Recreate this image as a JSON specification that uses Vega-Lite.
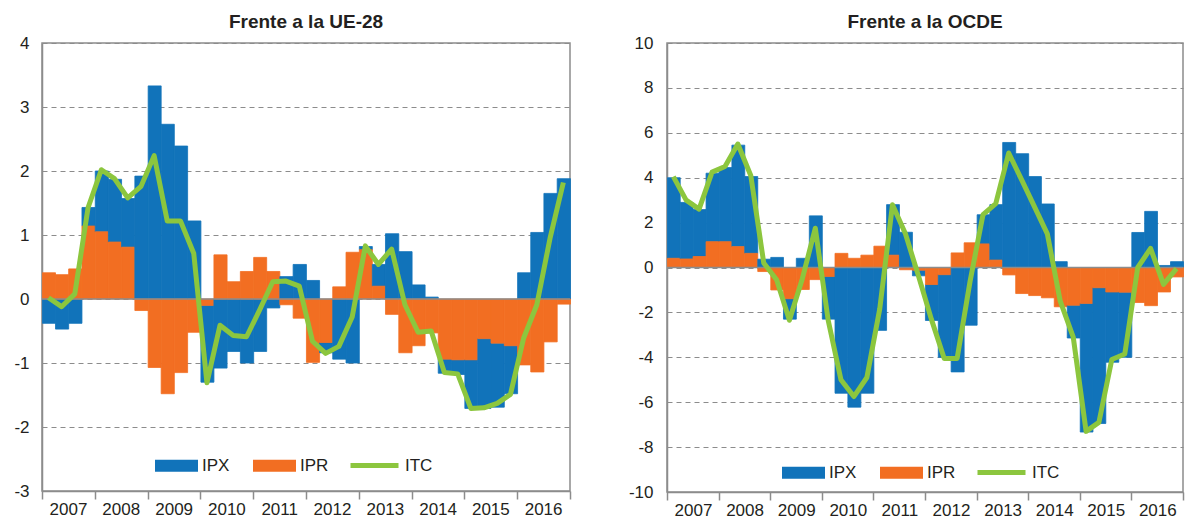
{
  "$schema": "https://vega.github.io/schema/vega-lite/v6.json",
  "background": "white",
  "padding": {"left": 13, "top": 12, "right": 4, "bottom": 4},
  "spacing": 30,
  "datasets": {
    "ue": [
      {"fecha": "2007-02-15", "IPX": -0.38, "IPR": 0.41, "ITC": 0.02},
      {"fecha": "2007-05-15", "IPX": -0.47, "IPR": 0.38, "ITC": -0.12},
      {"fecha": "2007-08-15", "IPX": -0.38, "IPR": 0.47, "ITC": 0.08},
      {"fecha": "2007-11-15", "IPX": 0.29, "IPR": 1.14, "ITC": 1.43},
      {"fecha": "2008-02-15", "IPX": 0.95, "IPR": 1.05, "ITC": 2.02},
      {"fecha": "2008-05-15", "IPX": 0.98, "IPR": 0.89, "ITC": 1.88},
      {"fecha": "2008-08-15", "IPX": 0.76, "IPR": 0.81, "ITC": 1.58},
      {"fecha": "2008-11-15", "IPX": 1.92, "IPR": -0.18, "ITC": 1.76},
      {"fecha": "2009-02-15", "IPX": 3.33, "IPR": -1.07, "ITC": 2.24},
      {"fecha": "2009-05-15", "IPX": 2.73, "IPR": -1.48, "ITC": 1.22},
      {"fecha": "2009-08-15", "IPX": 2.39, "IPR": -1.15, "ITC": 1.22},
      {"fecha": "2009-11-15", "IPX": 1.22, "IPR": -0.52, "ITC": 0.71},
      {"fecha": "2010-02-15", "IPX": -1.2, "IPR": -0.1, "ITC": -1.31},
      {"fecha": "2010-05-15", "IPX": -1.08, "IPR": 0.69, "ITC": -0.41},
      {"fecha": "2010-08-15", "IPX": -0.82, "IPR": 0.27, "ITC": -0.57},
      {"fecha": "2010-11-15", "IPX": -1.0, "IPR": 0.43, "ITC": -0.59},
      {"fecha": "2011-02-15", "IPX": -0.82, "IPR": 0.65, "ITC": -0.17},
      {"fecha": "2011-05-15", "IPX": -0.14, "IPR": 0.43, "ITC": 0.27},
      {"fecha": "2011-08-15", "IPX": 0.35, "IPR": -0.09, "ITC": 0.28},
      {"fecha": "2011-11-15", "IPX": 0.54, "IPR": -0.3, "ITC": 0.2},
      {"fecha": "2012-02-15", "IPX": 0.29, "IPR": -0.99, "ITC": -0.66},
      {"fecha": "2012-05-15", "IPX": -0.16, "IPR": -0.68, "ITC": -0.85},
      {"fecha": "2012-08-15", "IPX": -0.94, "IPR": 0.19, "ITC": -0.74},
      {"fecha": "2012-11-15", "IPX": -1.0, "IPR": 0.73, "ITC": -0.28},
      {"fecha": "2013-02-15", "IPX": 0.05, "IPR": 0.77, "ITC": 0.83},
      {"fecha": "2013-05-15", "IPX": 0.34, "IPR": 0.2, "ITC": 0.54},
      {"fecha": "2013-08-15", "IPX": 1.02, "IPR": -0.24, "ITC": 0.78},
      {"fecha": "2013-11-15", "IPX": 0.74, "IPR": -0.84, "ITC": -0.09},
      {"fecha": "2014-02-15", "IPX": 0.22, "IPR": -0.73, "ITC": -0.52},
      {"fecha": "2014-05-15", "IPX": 0.03, "IPR": -0.53, "ITC": -0.5},
      {"fecha": "2014-08-15", "IPX": -0.22, "IPR": -0.94, "ITC": -1.15},
      {"fecha": "2014-11-15", "IPX": -0.23, "IPR": -0.95, "ITC": -1.17},
      {"fecha": "2015-02-15", "IPX": -0.76, "IPR": -0.95, "ITC": -1.71},
      {"fecha": "2015-05-15", "IPX": -1.09, "IPR": -0.62, "ITC": -1.7},
      {"fecha": "2015-08-15", "IPX": -1.0, "IPR": -0.69, "ITC": -1.63},
      {"fecha": "2015-11-15", "IPX": -0.75, "IPR": -0.73, "ITC": -1.49},
      {"fecha": "2016-02-15", "IPX": 0.41, "IPR": -1.03, "ITC": -0.61},
      {"fecha": "2016-05-15", "IPX": 1.04, "IPR": -1.14, "ITC": -0.09},
      {"fecha": "2016-08-15", "IPX": 1.65, "IPR": -0.67, "ITC": 0.95},
      {"fecha": "2016-11-15", "IPX": 1.88, "IPR": -0.08, "ITC": 1.82}
    ],
    "ocde": [
      {"fecha": "2007-02-15", "IPX": 3.59, "IPR": 0.41, "ITC": 4.05},
      {"fecha": "2007-05-15", "IPX": 2.52, "IPR": 0.38, "ITC": 3.0},
      {"fecha": "2007-08-15", "IPX": 2.09, "IPR": 0.49, "ITC": 2.6},
      {"fecha": "2007-11-15", "IPX": 3.05, "IPR": 1.15, "ITC": 4.25},
      {"fecha": "2008-02-15", "IPX": 3.3, "IPR": 1.15, "ITC": 4.5},
      {"fecha": "2008-05-15", "IPX": 4.52, "IPR": 0.93, "ITC": 5.5},
      {"fecha": "2008-08-15", "IPX": 3.42, "IPR": 0.63, "ITC": 4.1},
      {"fecha": "2008-11-15", "IPX": 0.37, "IPR": -0.18, "ITC": 0.2},
      {"fecha": "2009-02-15", "IPX": 0.45, "IPR": -1.0, "ITC": -0.55},
      {"fecha": "2009-05-15", "IPX": -0.91, "IPR": -1.39, "ITC": -2.35},
      {"fecha": "2009-08-15", "IPX": 0.41, "IPR": -0.98, "ITC": -0.5},
      {"fecha": "2009-11-15", "IPX": 2.3, "IPR": -0.54, "ITC": 1.75},
      {"fecha": "2010-02-15", "IPX": -1.9, "IPR": -0.4, "ITC": -2.35},
      {"fecha": "2010-05-15", "IPX": -5.6, "IPR": 0.63, "ITC": -5.0},
      {"fecha": "2010-08-15", "IPX": -6.22, "IPR": 0.41, "ITC": -5.75},
      {"fecha": "2010-11-15", "IPX": -5.6, "IPR": 0.55, "ITC": -4.9},
      {"fecha": "2011-02-15", "IPX": -2.8, "IPR": 0.95, "ITC": -1.85},
      {"fecha": "2011-05-15", "IPX": 2.25, "IPR": 0.55, "ITC": 2.8},
      {"fecha": "2011-08-15", "IPX": 1.57, "IPR": -0.1, "ITC": 1.5},
      {"fecha": "2011-11-15", "IPX": -0.25, "IPR": -0.12, "ITC": -0.37},
      {"fecha": "2012-02-15", "IPX": -1.6, "IPR": -0.76, "ITC": -2.3},
      {"fecha": "2012-05-15", "IPX": -3.68, "IPR": -0.32, "ITC": -4.05},
      {"fecha": "2012-08-15", "IPX": -4.65, "IPR": 0.65, "ITC": -4.05},
      {"fecha": "2012-11-15", "IPX": -2.57, "IPR": 1.1, "ITC": -0.6},
      {"fecha": "2013-02-15", "IPX": 1.3, "IPR": 1.05, "ITC": 2.35},
      {"fecha": "2013-05-15", "IPX": 2.47, "IPR": 0.33, "ITC": 2.85},
      {"fecha": "2013-08-15", "IPX": 5.57, "IPR": -0.33, "ITC": 5.1},
      {"fecha": "2013-11-15", "IPX": 5.07, "IPR": -1.16, "ITC": 3.9},
      {"fecha": "2014-02-15", "IPX": 4.05, "IPR": -1.25, "ITC": 2.7},
      {"fecha": "2014-05-15", "IPX": 2.83, "IPR": -1.35, "ITC": 1.5},
      {"fecha": "2014-08-15", "IPX": 0.26, "IPR": -1.75, "ITC": -1.5},
      {"fecha": "2014-11-15", "IPX": -1.46, "IPR": -1.68, "ITC": -3.1},
      {"fecha": "2015-02-15", "IPX": -5.73, "IPR": -1.6, "ITC": -7.3},
      {"fecha": "2015-05-15", "IPX": -6.05, "IPR": -0.9, "ITC": -6.9},
      {"fecha": "2015-08-15", "IPX": -3.13, "IPR": -1.09, "ITC": -4.1},
      {"fecha": "2015-11-15", "IPX": -2.9, "IPR": -1.1, "ITC": -3.85},
      {"fecha": "2016-02-15", "IPX": 1.56, "IPR": -1.56, "ITC": 0.0},
      {"fecha": "2016-05-15", "IPX": 2.5, "IPR": -1.7, "ITC": 0.85},
      {"fecha": "2016-08-15", "IPX": 0.09, "IPR": -1.09, "ITC": -0.75},
      {"fecha": "2016-11-15", "IPX": 0.26, "IPR": -0.42, "ITC": -0.05}
    ]
  },
  "hconcat": [
    {
      "width": 528,
      "height": 448,
      "title": {"text": "Frente a la UE-28"},
      "resolve": {"scale": {"stroke": "independent"}},
      "layer": [
        {
          "data": {"name": "ue"},
          "transform": [{"fold": ["IPX", "IPR"], "as": ["serie", "valor"]}],
          "mark": {"type": "bar", "binSpacing": 0, "strokeWidth": 0.8},
          "encoding": {
            "x": {
              "field": "fecha", "type": "temporal", "timeUnit": "yearquarter",
              "scale": {"domain": [{"year": 2007, "month": 1, "date": 1}, {"year": 2017, "month": 1, "date": 1}]},
              "axis": {
                "title": null, "grid": false,
                "values": [{"year": 2007, "month": 1, "date": 1}, {"year": 2008, "month": 1, "date": 1}, {"year": 2009, "month": 1, "date": 1}, {"year": 2010, "month": 1, "date": 1}, {"year": 2011, "month": 1, "date": 1}, {"year": 2012, "month": 1, "date": 1}, {"year": 2013, "month": 1, "date": 1}, {"year": 2014, "month": 1, "date": 1}, {"year": 2015, "month": 1, "date": 1}, {"year": 2016, "month": 1, "date": 1}, {"year": 2017, "month": 1, "date": 1}],
                "labelExpr": "year(datum.value) > 2016 ? '' : timeFormat(datum.value, '%Y')",
                "labelOffset": 26, "labelFlush": false, "labelOverlap": false,
                "tickSize": 8, "labelPadding": 2
              }
            },
            "y": {
              "field": "valor", "type": "quantitative", "stack": "zero",
              "scale": {"domain": [-3, 4], "nice": false},
              "axis": {
                "title": null, "values": [-3, -2, -1, 0, 1, 2, 3, 4],
                "labelExpr": "datum.value + ''", "ticks": false, "labelPadding": 13,
                "grid": true, "gridDash": [5, 4], "gridColor": "#8c8c8c", "gridWidth": 1
              }
            },
            "fill": {
              "field": "serie", "type": "nominal",
              "scale": {"domain": ["IPX", "IPR"], "range": ["#1173BA", "#F26E22"]},
              "legend": {
                "orient": "none", "legendX": 113, "legendY": 401, "direction": "horizontal", "title": null,
                "symbolType": "M-1,-0.28L1,-0.28L1,0.28L-1,0.28Z", "symbolSize": 1849, "symbolStrokeWidth": 0,
                "labelFontSize": 17, "labelOffset": 4, "columnPadding": 23
              }
            },
            "stroke": {
              "field": "serie", "type": "nominal",
              "scale": {"domain": ["IPX", "IPR"], "range": ["#1173BA", "#F26E22"]},
              "legend": null
            },
            "order": {"field": "serie", "sort": "ascending"}
          }
        },
        {
          "data": {"values": [{}]},
          "mark": {"type": "rule", "color": "#8c8c8c", "strokeWidth": 1.5},
          "encoding": {"y": {"datum": 0}}
        },
        {
          "data": {"name": "ue"},
          "mark": {"type": "line", "strokeWidth": 5, "strokeJoin": "round"},
          "encoding": {
            "x": {"field": "fecha", "type": "temporal", "timeUnit": "yearquarter", "bandPosition": 0.5},
            "y": {"field": "ITC", "type": "quantitative"},
            "stroke": {
              "datum": "ITC",
              "scale": {"domain": ["ITC"], "range": ["#8CC63E"]},
              "legend": {
                "orient": "none", "legendX": 306, "legendY": 396, "title": null,
                "symbolType": "stroke", "symbolSize": 2304, "symbolStrokeWidth": 5,
                "labelFontSize": 17, "labelOffset": 4
              }
            }
          }
        }
      ]
    },
    {
      "width": 516,
      "height": 449,
      "title": {"text": "Frente a la OCDE"},
      "resolve": {"scale": {"stroke": "independent"}},
      "layer": [
        {
          "data": {"name": "ocde"},
          "transform": [{"fold": ["IPX", "IPR"], "as": ["serie", "valor"]}],
          "mark": {"type": "bar", "binSpacing": 0, "strokeWidth": 0.8},
          "encoding": {
            "x": {
              "field": "fecha", "type": "temporal", "timeUnit": "yearquarter",
              "scale": {"domain": [{"year": 2007, "month": 1, "date": 1}, {"year": 2017, "month": 1, "date": 1}]},
              "axis": {
                "title": null, "grid": false,
                "values": [{"year": 2007, "month": 1, "date": 1}, {"year": 2008, "month": 1, "date": 1}, {"year": 2009, "month": 1, "date": 1}, {"year": 2010, "month": 1, "date": 1}, {"year": 2011, "month": 1, "date": 1}, {"year": 2012, "month": 1, "date": 1}, {"year": 2013, "month": 1, "date": 1}, {"year": 2014, "month": 1, "date": 1}, {"year": 2015, "month": 1, "date": 1}, {"year": 2016, "month": 1, "date": 1}, {"year": 2017, "month": 1, "date": 1}],
                "labelExpr": "year(datum.value) > 2016 ? '' : timeFormat(datum.value, '%Y')",
                "labelOffset": 26, "labelFlush": false, "labelOverlap": false,
                "tickSize": 8, "labelPadding": 2
              }
            },
            "y": {
              "field": "valor", "type": "quantitative", "stack": "zero",
              "scale": {"domain": [-10, 10], "nice": false},
              "axis": {
                "title": null, "values": [-10, -8, -6, -4, -2, 0, 2, 4, 6, 8, 10],
                "labelExpr": "datum.value + ''", "ticks": false, "labelPadding": 14,
                "grid": true, "gridDash": [5, 4], "gridColor": "#8c8c8c", "gridWidth": 1
              }
            },
            "fill": {
              "field": "serie", "type": "nominal",
              "scale": {"domain": ["IPX", "IPR"], "range": ["#1173BA", "#F26E22"]},
              "legend": {
                "orient": "none", "legendX": 115, "legendY": 408, "direction": "horizontal", "title": null,
                "symbolType": "M-1,-0.28L1,-0.28L1,0.28L-1,0.28Z", "symbolSize": 1849, "symbolStrokeWidth": 0,
                "labelFontSize": 17, "labelOffset": 4, "columnPadding": 23
              }
            },
            "stroke": {
              "field": "serie", "type": "nominal",
              "scale": {"domain": ["IPX", "IPR"], "range": ["#1173BA", "#F26E22"]},
              "legend": null
            },
            "order": {"field": "serie", "sort": "ascending"}
          }
        },
        {
          "data": {"values": [{}]},
          "mark": {"type": "rule", "color": "#8c8c8c", "strokeWidth": 1.5},
          "encoding": {"y": {"datum": 0}}
        },
        {
          "data": {"name": "ocde"},
          "mark": {"type": "line", "strokeWidth": 5, "strokeJoin": "round"},
          "encoding": {
            "x": {"field": "fecha", "type": "temporal", "timeUnit": "yearquarter", "bandPosition": 0.5},
            "y": {"field": "ITC", "type": "quantitative"},
            "stroke": {
              "datum": "ITC",
              "scale": {"domain": ["ITC"], "range": ["#8CC63E"]},
              "legend": {
                "orient": "none", "legendX": 308, "legendY": 403, "title": null,
                "symbolType": "stroke", "symbolSize": 2304, "symbolStrokeWidth": 5,
                "labelFontSize": 17, "labelOffset": 4
              }
            }
          }
        }
      ]
    }
  ],
  "resolve": {"scale": {"fill": "independent", "stroke": "independent"}},
  "config": {
    "font": "Liberation Sans",
    "view": {"stroke": "#8c8c8c", "strokeWidth": 1.5},
    "title": {"font": "Liberation Sans", "fontSize": 19, "fontWeight": "bold", "color": "#231f20", "anchor": "middle", "offset": 2},
    "axis": {
      "labelFont": "Liberation Sans", "labelFontSize": 17, "labelColor": "#231f20",
      "domainColor": "#8c8c8c", "domainWidth": 1.5, "tickColor": "#8c8c8c", "tickWidth": 1.5
    },
    "legend": {"labelFont": "Liberation Sans", "labelColor": "#231f20", "padding": 0}
  }
}
